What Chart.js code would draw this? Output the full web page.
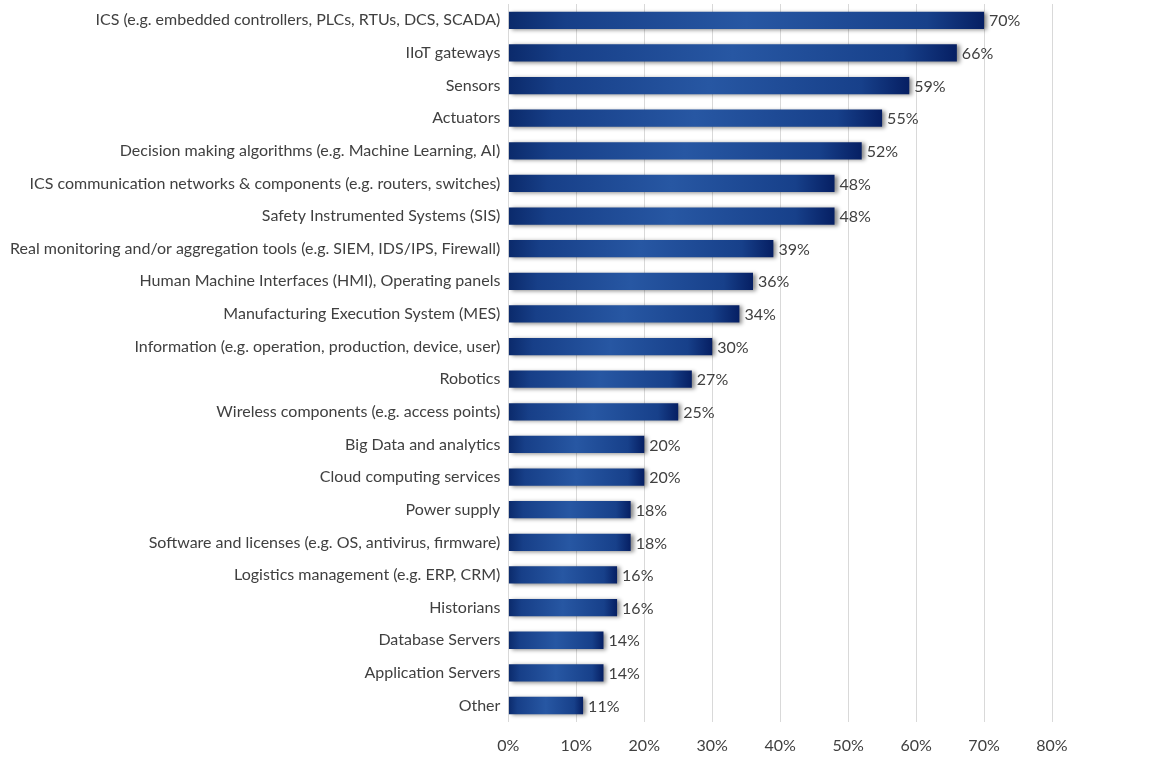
<!DOCTYPE html>
<html>
<head>
<meta charset="utf-8">
<script src="https://cdn.jsdelivr.net/npm/chart.js@4/dist/chart.umd.min.js"></script>
<style>
  html, body { margin: 0; padding: 0; background: #fff; }
  #wrap { width: 1168px; height: 762px; }
</style>
</head>
<body>
<div id="wrap"><canvas id="chart"></canvas></div>
<script>
const categories = [
    "ICS (e.g. embedded controllers, PLCs, RTUs, DCS, SCADA)",
    "IIoT gateways",
    "Sensors",
    "Actuators",
    "Decision making algorithms (e.g. Machine Learning, AI)",
    "ICS communication networks & components (e.g. routers, switches)",
    "Safety Instrumented Systems (SIS)",
    "Real monitoring and/or aggregation tools (e.g. SIEM, IDS/IPS, Firewall)",
    "Human Machine Interfaces (HMI), Operating panels",
    "Manufacturing Execution System (MES)",
    "Information (e.g. operation, production, device, user)",
    "Robotics",
    "Wireless components (e.g. access points)",
    "Big Data and analytics",
    "Cloud computing services",
    "Power supply",
    "Software and licenses (e.g. OS, antivirus, firmware)",
    "Logistics management (e.g. ERP, CRM)",
    "Historians",
    "Database Servers",
    "Application Servers",
    "Other"
];
const values = [70, 66, 59, 55, 52, 48, 48, 39, 36, 34, 30, 27, 25, 20, 20, 18, 18, 16, 16, 14, 14, 11];
const xTicks = [0, 10, 20, 30, 40, 50, 60, 70, 80];

const FONT = "Lato, 'Open Sans', sans-serif";
const TEXT = "#404040";

// bar fill: dark edges, lighter blue in the middle
function barFill(context) {
    const chart = context.chart;
    if (!chart.chartArea) return "#1f4e96";
    const x0 = chart.scales.x.getPixelForValue(0);
    const x1 = chart.scales.x.getPixelForValue(context.raw);
    const g = chart.ctx.createLinearGradient(x0, 0, x1, 0);
    g.addColorStop(0, "#0b2a6b");
    g.addColorStop(0.12, "#173f88");
    g.addColorStop(0.5, "#2757a3");
    g.addColorStop(0.88, "#17408a");
    g.addColorStop(1, "#061f63");
    return g;
}

// soft shadow under the bars
const shadowPlugin = {
    id: "shadow",
    beforeDatasetsDraw(chart) {
        const ctx = chart.ctx;
        ctx.save();
        ctx.shadowColor = "rgba(0,0,0,0.45)";
        ctx.shadowBlur = 4;
        ctx.shadowOffsetX = 3;
        ctx.shadowOffsetY = 1;
    },
    afterDatasetsDraw(chart) {
        chart.ctx.restore();
    }
};

// percentage labels at bar ends
const valueLabels = {
    id: "valueLabels",
    afterDraw(chart) {
        const ctx = chart.ctx;
        const meta = chart.getDatasetMeta(0);
        ctx.save();
        ctx.font = "16px " + FONT;
        ctx.fillStyle = TEXT;
        ctx.textAlign = "left";
        ctx.textBaseline = "middle";
        meta.data.forEach((bar, i) => {
            ctx.fillText(values[i] + "%", bar.x + 5, bar.y + 1);
        });
        ctx.restore();
    }
};

new Chart(document.getElementById("chart"), {
    type: "bar",
    data: {
        labels: categories,
        datasets: [{
            data: values,
            backgroundColor: barFill,
            borderWidth: 0,
            categoryPercentage: 1,
            barPercentage: 0.53
        }]
    },
    options: {
        indexAxis: "y",
        responsive: true,
        maintainAspectRatio: false,
        animation: false,
        layout: { padding: { top: 4, right: 116, bottom: -7, left: 2 } },
        plugins: {
            legend: { display: false },
            tooltip: { enabled: false }
        },
        scales: {
            x: {
                min: 0,
                max: 80,
                afterBuildTicks(axis) {
                    axis.ticks = xTicks.map(v => ({ value: v }));
                },
                grid: { color: "#d9d9d9", drawTicks: false },
                border: { display: false },
                ticks: {
                    color: TEXT,
                    font: { family: FONT, size: 16 },
                    padding: 14,
                    callback: v => v + "%"
                }
            },
            y: {
                afterFit(axis) {
                    axis.paddingTop = 0;
                    axis.paddingBottom = 0;
                },
                grid: { display: false, drawTicks: false },
                border: { display: false },
                ticks: {
                    color: TEXT,
                    font: { family: FONT, size: 16 },
                    padding: 8,
                    autoSkip: false
                }
            }
        }
    },
    plugins: [shadowPlugin, valueLabels]
});
</script>
</body>
</html>
